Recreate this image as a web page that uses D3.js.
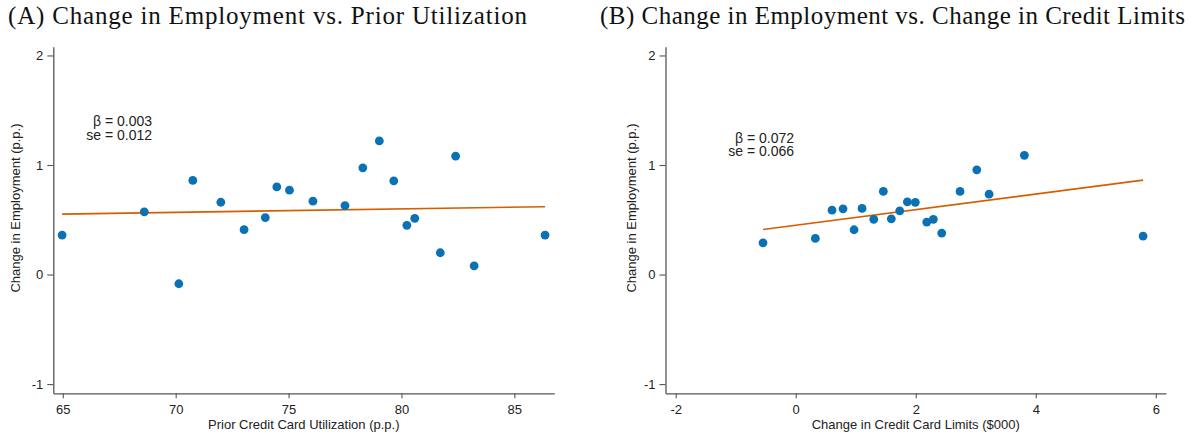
<!DOCTYPE html>
<html>
<head>
<meta charset="utf-8">
<script src="https://cdn.jsdelivr.net/npm/d3@7"></script>
<style>
  html, body { margin: 0; padding: 0; background: #fff; }
  svg { display: block; }
</style>
</head>
<body>
<svg id="chart" width="1195" height="437"></svg>
<script>
// ---------- Data ----------
const titles = [
  "(A) Change in Employment vs. Prior Utilization",
  "(B) Change in Employment vs. Change in Credit Limits"
];
const xAxisTitles = ["Prior Credit Card Utilization (p.p.)", "Change in Credit Card Limits ($000)"];
const yAxisTitle = "Change in Employment (p.p.)";

const xTicksA = [65, 70, 75, 80, 85];
const xTicksB = [-2, 0, 2, 4, 6];
const yTicks = [-1, 0, 1, 2];

// Panel A: prior utilization (p.p.) vs change in employment (p.p.)
const utilA = [64.97, 68.61, 70.14, 70.76, 72.00, 73.03, 73.97, 74.48, 75.04, 76.08,
               77.50, 78.29, 79.02, 79.66, 80.24, 80.59, 81.72, 82.40, 83.22, 86.36];
const empA  = [0.36, 0.573, -0.084, 0.859, 0.66, 0.41, 0.52, 0.80, 0.77, 0.67,
               0.63, 0.974, 1.22, 0.856, 0.449, 0.513, 0.199, 1.081, 0.080, 0.36];
// fitted line endpoints (x, y)
const fitAx = [64.97, 86.36];
const fitAy = [0.552, 0.619];
const statsA = ["\u03B2 = 0.003", "se = 0.012"];

// Panel B: change in credit limits ($000) vs change in employment (p.p.)
const limB = [-0.545, 0.327, 0.605, 0.788, 0.972, 1.105, 1.30, 1.46, 1.593, 1.733,
              1.86, 1.993, 2.183, 2.293, 2.433, 2.738, 3.017, 3.222, 3.81, 5.788];
const empB = [0.29, 0.33, 0.588, 0.60, 0.409, 0.604, 0.504, 0.759, 0.509, 0.582,
              0.664, 0.659, 0.479, 0.504, 0.379, 0.759, 0.956, 0.734, 1.088, 0.351];
const fitBx = [-0.545, 5.788];
const fitBy = [0.412, 0.862];
const statsB = ["\u03B2 = 0.072", "se = 0.066"];

// ---------- Style ----------
const DOT = "#0a72b4";
const FIT = "#d55e00";
const AXIS = "#555";
const SANS = "'Liberation Sans', Arial, sans-serif";
const SERIF = "'Liberation Serif', 'Times New Roman', serif";

const svg = d3.select("#chart");

const panels = [
  { title: titles[0], xt: xAxisTitles[0], xTicks: xTicksA, xs: utilA, ys: empA, fx: fitAx, fy: fitAy, stats: statsA,
    xDomain: [64.58, 86.77], xRange: [53.3, 554.3], titleX: 267.5, titleW: 519, statX: 152, statY: 126, yLabX: 20 },
  { title: titles[1], xt: xAxisTitles[1], xTicks: xTicksB, xs: limB, ys: empB, fx: fitBx, fy: fitBy, stats: statsB,
    xDomain: [-2.17, 6.17], xRange: [665.5, 1166], titleX: 892.5, titleW: 585, statX: 794, statY: 142.5, yLabX: 636 }
];

const yDomain = [-1.084, 2.08];
const yRange = [393.3, 46.7];

panels.forEach(p => {
  const g = svg.append("g");
  const x = d3.scaleLinear().domain(p.xDomain).range(p.xRange);
  const y = d3.scaleLinear().domain(yDomain).range(yRange);

  // title
  g.append("text")
    .attr("x", p.titleX).attr("y", 24)
    .attr("text-anchor", "middle")
    .attr("textLength", p.titleW).attr("lengthAdjust", "spacing")
    .style("font-family", SERIF).style("font-size", "25px").style("fill", "#111")
    .text(p.title);

  // x axis
  const xAxis = d3.axisBottom(x).tickValues(p.xTicks).tickSizeInner(5).tickSizeOuter(0).tickPadding(6.5)
    .tickFormat(d => d < 0 ? "-" + Math.abs(d) : String(d));
  const gx = g.append("g").attr("transform", `translate(0,${yRange[0]})`).call(xAxis);
  // y axis
  const yAxis = d3.axisLeft(y).tickValues(yTicks).tickSizeInner(6).tickSizeOuter(0).tickPadding(4)
    .tickFormat(d => d < 0 ? "-" + Math.abs(d) : String(d));
  const gy = g.append("g").attr("transform", `translate(${p.xRange[0]},0)`).call(yAxis);

  [gx, gy].forEach(a => {
    a.select(".domain").attr("stroke", AXIS).attr("stroke-width", 1.3);
    a.selectAll(".tick line").attr("stroke", AXIS).attr("stroke-width", 1.1);
    a.selectAll(".tick text").style("font-family", SANS).style("font-size", "13px").style("fill", "#222");
  });

  // axis titles
  g.append("text")
    .attr("x", (p.xRange[0] + p.xRange[1]) / 2).attr("y", 428.5)
    .attr("text-anchor", "middle")
    .style("font-family", SANS).style("font-size", "13px").style("fill", "#222")
    .text(p.xt);
  g.append("text")
    .attr("transform", `translate(${p.yLabX},208) rotate(-90)`)
    .attr("text-anchor", "middle")
    .style("font-family", SANS).style("font-size", "13px").style("fill", "#222")
    .text(yAxisTitle);

  // fit line
  const line = d3.line().x(d => x(d[0])).y(d => y(d[1]));
  g.append("path")
    .datum(p.fx.map((v, i) => [v, p.fy[i]]))
    .attr("d", line)
    .attr("fill", "none").attr("stroke", FIT).attr("stroke-width", 1.6);

  // points
  g.selectAll("circle.pt")
    .data(p.xs.map((v, i) => [v, p.ys[i]]))
    .join("circle").attr("class", "pt")
    .attr("cx", d => x(d[0])).attr("cy", d => y(d[1]))
    .attr("r", 4.4).attr("fill", DOT);

  // stats text
  p.stats.forEach((s, i) => {
    g.append("text")
      .attr("x", p.statX).attr("y", p.statY + i * 13.7)
      .attr("text-anchor", "end")
      .style("font-family", SANS).style("font-size", "14px").style("fill", "#222")
      .text(s);
  });
});
</script>
</body>
</html>
